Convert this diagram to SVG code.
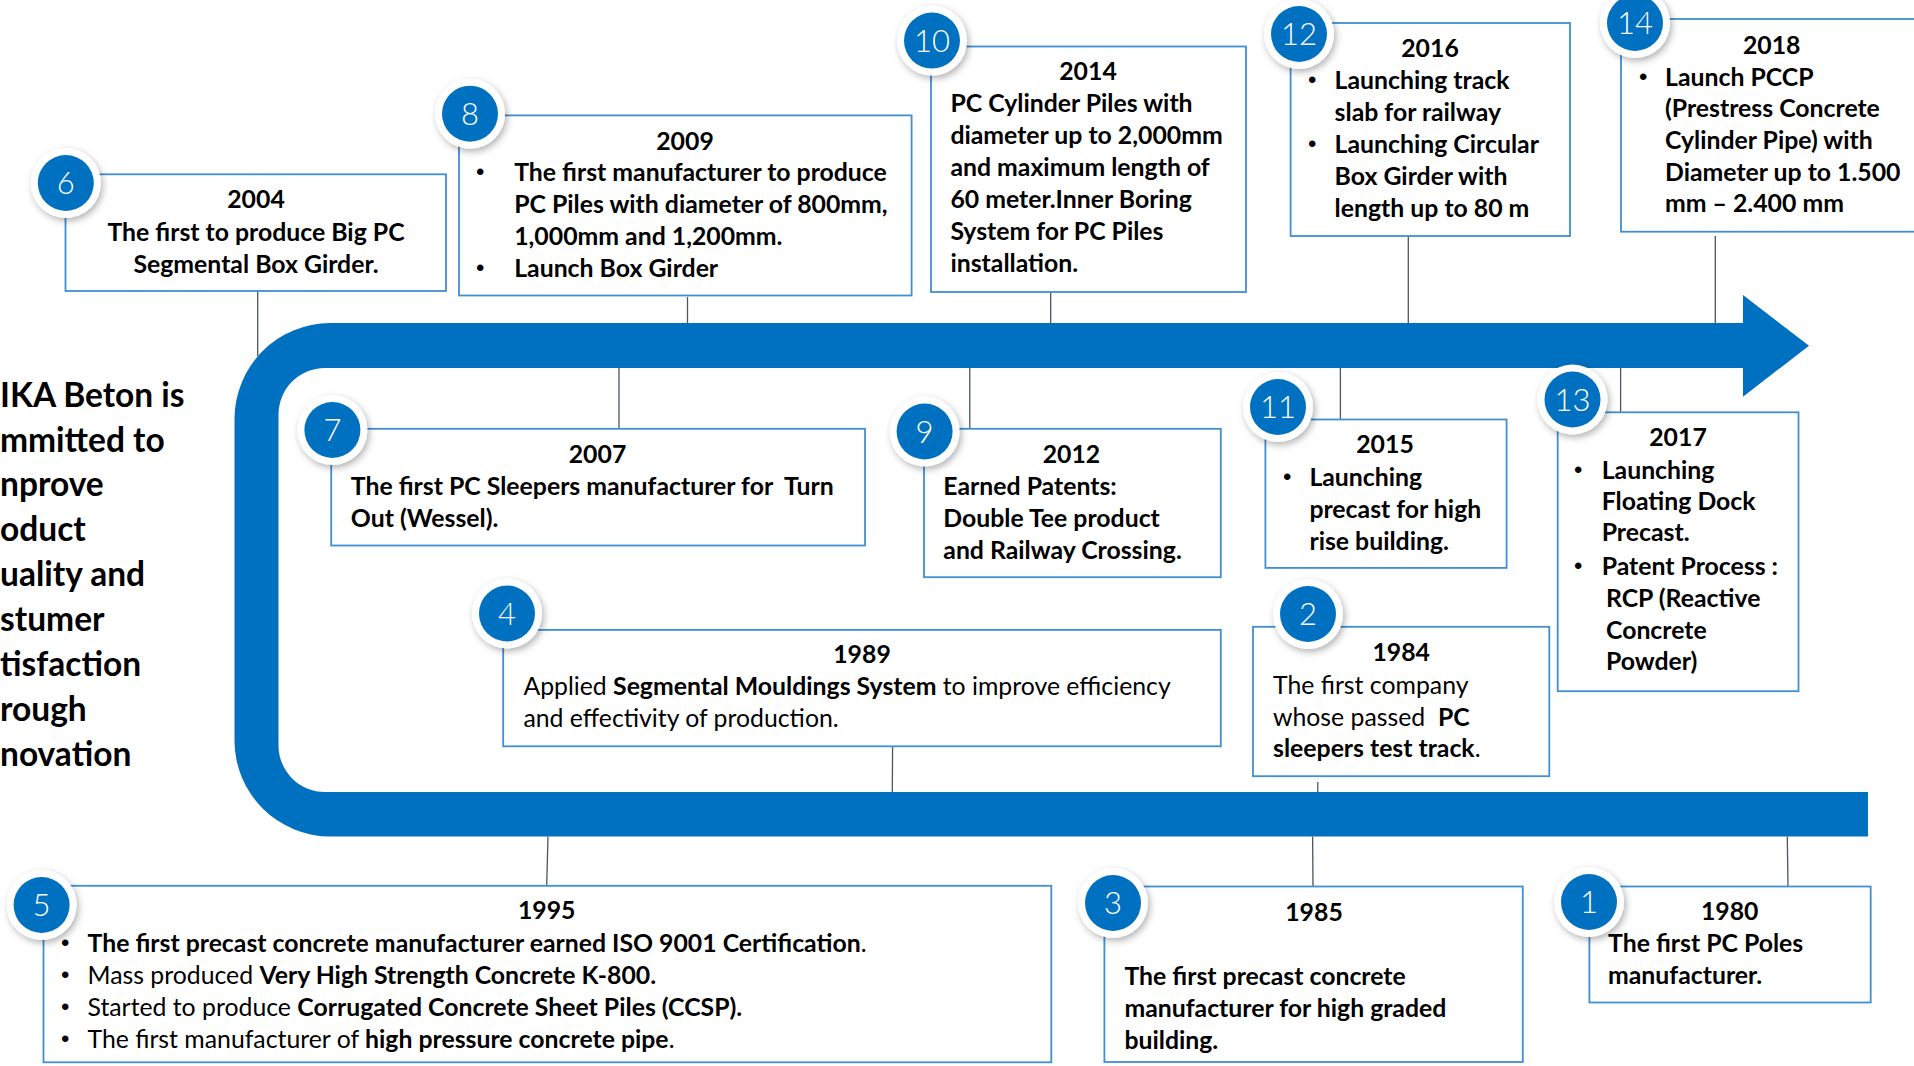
<svg xmlns="http://www.w3.org/2000/svg" width="1914" height="1066" viewBox="0 0 1914 1066">
<defs>
<style>
.box{fill:#fff;stroke:#3F8FD2;stroke-width:1.8}
.t{font-family:Lato,"Liberation Sans",sans-serif;font-size:24.8px;fill:#000}
.b{font-weight:700}
.r{font-weight:400}
.m{text-anchor:middle}
.bu{font-family:"Liberation Sans",sans-serif;font-size:24px;fill:#000}
.c{stroke:#4A5568;stroke-width:1.3;fill:none}
.ring{fill:#fff;filter:url(#sh)}
.disc{fill:#0070C0}
.num{font-family:Lato,"Liberation Sans",sans-serif;font-size:31px;font-weight:300;fill:#fff;text-anchor:middle}
.side{font-family:Lato,"Liberation Sans",sans-serif;font-size:33.5px;font-weight:700;fill:#000}
</style>
<filter id="sh" x="-40%" y="-40%" width="180%" height="180%">
<feDropShadow dx="2" dy="3" stdDeviation="3.5" flood-color="#000" flood-opacity="0.3"/>
</filter>
</defs>
<rect width="1914" height="1066" fill="#fff"/>

<g id="band">
<path fill="#0070C0" d="M1743 323 L330 323 A96 96 0 0 0 234.5 419 L234.5 740.5 A96 96 0 0 0 330.5 836.5 L1868 836.5 L1868 792 L325 792 A46.5 46.5 0 0 1 278.5 745.5 L278.5 414.5 A46.5 46.5 0 0 1 325 368 L1743 368 L1743 396.7 L1809 345.7 L1743 295 Z"/>
</g>

<g id="side-text" class="side">
<text x="0" y="407">IKA Beton is</text>
<text x="0" y="451.5">mmitted to</text>
<text x="0" y="496">nprove</text>
<text x="0" y="540.5">oduct</text>
<text x="0" y="586">uality and</text>
<text x="0" y="631">stumer</text>
<text x="0" y="676">tisfaction</text>
<text x="0" y="721">rough</text>
<text x="0" y="766">novation</text>
</g>

<g id="connectors">
<line class="c" x1="257.7" y1="291" x2="257.7" y2="356"/>
<line class="c" x1="687.5" y1="297" x2="687.5" y2="323.5"/>
<line class="c" x1="1050.7" y1="292" x2="1050.7" y2="323.5"/>
<line class="c" x1="1408.3" y1="236" x2="1408.3" y2="323.5"/>
<line class="c" x1="1715.3" y1="236" x2="1715.3" y2="325"/>
<line class="c" x1="619" y1="368" x2="619" y2="428"/>
<line class="c" x1="969.8" y1="368" x2="969.8" y2="428"/>
<line class="c" x1="1340.4" y1="368" x2="1340.4" y2="419.5"/>
<line class="c" x1="1620.6" y1="368" x2="1620.6" y2="412.3"/>
<line class="c" x1="892.6" y1="746.3" x2="892.3" y2="792"/>
<line class="c" x1="1317.8" y1="782" x2="1317.8" y2="792"/>
<line class="c" x1="548" y1="836.5" x2="546.7" y2="885.8"/>
<line class="c" x1="1312.6" y1="836.5" x2="1313" y2="886.5"/>
<line class="c" x1="1787.3" y1="836.5" x2="1788" y2="886.5"/>
</g>

<g id="node-6">
<rect class="box" x="65.5" y="174.3" width="380.5" height="116.7"/>
<text class="t b m" x="256" y="208">2004</text>
<text class="t b m" x="256" y="241">The first to produce Big PC</text>
<text class="t b m" x="256" y="273">Segmental Box Girder.</text>
<circle class="ring" cx="65.8" cy="183" r="35"/>
<circle class="disc" cx="65.8" cy="183" r="28"/>
<text class="num" x="65.8" y="194">6</text>
</g>

<g id="node-8">
<rect class="box" x="459" y="115.4" width="452.6" height="180.1"/>
<text class="t b m" x="685" y="150">2009</text>
<text class="bu" x="476" y="180">•</text>
<text class="t b" x="514.2" y="181">The first manufacturer to produce</text>
<text class="t b" x="514.2" y="213">PC Piles with diameter of 800mm,</text>
<text class="t b" x="514.2" y="245">1,000mm and 1,200mm.</text>
<text class="bu" x="476" y="276">•</text>
<text class="t b" x="514.2" y="277">Launch Box Girder</text>
<circle class="ring" cx="470" cy="113.7" r="35"/>
<circle class="disc" cx="470" cy="113.7" r="28"/>
<text class="num" x="470" y="125">8</text>
</g>

<g id="node-10">
<rect class="box" x="931" y="46.5" width="315" height="245.5"/>
<text class="t b m" x="1088" y="80">2014</text>
<text class="t b" x="950.4" y="112">PC Cylinder Piles with</text>
<text class="t b" x="950.4" y="144">diameter up to 2,000mm</text>
<text class="t b" x="950.4" y="176">and maximum length of</text>
<text class="t b" x="950.4" y="208">60 meter.Inner Boring</text>
<text class="t b" x="950.4" y="240">System for PC Piles</text>
<text class="t b" x="950.4" y="272">installation.</text>
<circle class="ring" cx="932" cy="40.6" r="35"/>
<circle class="disc" cx="932" cy="40.6" r="28"/>
<text class="num" x="932" y="52">10</text>
</g>

<g id="node-12">
<rect class="box" x="1290.6" y="23" width="279.4" height="213"/>
<text class="t b m" x="1430" y="57">2016</text>
<text class="bu" x="1308" y="88">•</text>
<text class="t b" x="1334.6" y="89">Launching track</text>
<text class="t b" x="1334.6" y="121">slab for railway</text>
<text class="bu" x="1308" y="152">•</text>
<text class="t b" x="1334.6" y="153">Launching Circular</text>
<text class="t b" x="1334.6" y="185">Box Girder with</text>
<text class="t b" x="1334.6" y="217">length up to 80 m</text>
<circle class="ring" cx="1299" cy="34" r="35"/>
<circle class="disc" cx="1299" cy="34" r="28"/>
<text class="num" x="1299" y="45">12</text>
</g>

<g id="node-14">
<rect class="box" x="1621" y="19" width="320" height="212.7"/>
<text class="t b m" x="1771.7" y="54">2018</text>
<text class="bu" x="1639" y="85">•</text>
<text class="t b" x="1665" y="86">Launch PCCP</text>
<text class="t b" x="1665" y="117.3">(Prestress Concrete</text>
<text class="t b" x="1665" y="149">Cylinder Pipe) with</text>
<text class="t b" x="1665" y="180.7">Diameter up to 1.500</text>
<text class="t b" x="1665" y="212.3">mm – 2.400 mm</text>
<circle class="ring" cx="1635" cy="23" r="35"/>
<circle class="disc" cx="1635" cy="23" r="28"/>
<text class="num" x="1635" y="34">14</text>
</g>

<g id="node-7">
<rect class="box" x="331.2" y="428.8" width="533.8" height="116.7"/>
<text class="t b m" x="597.5" y="463">2007</text>
<text class="t b" x="350.8" y="495" xml:space="preserve">The first PC Sleepers manufacturer for  Turn</text>
<text class="t b" x="350.8" y="527">Out (Wessel).</text>
<circle class="ring" cx="332.4" cy="430" r="35"/>
<circle class="disc" cx="332.4" cy="430" r="28"/>
<text class="num" x="332.4" y="441">7</text>
</g>

<g id="node-9">
<rect class="box" x="924" y="428.8" width="296.8" height="148.4"/>
<text class="t b m" x="1071.4" y="463">2012</text>
<text class="t b" x="943.3" y="495">Earned Patents:</text>
<text class="t b" x="943.3" y="527">Double Tee product</text>
<text class="t b" x="943.3" y="559">and Railway Crossing.</text>
<circle class="ring" cx="924.6" cy="431.5" r="35"/>
<circle class="disc" cx="924.6" cy="431.5" r="28"/>
<text class="num" x="924.6" y="442.5">9</text>
</g>

<g id="node-11">
<rect class="box" x="1265.4" y="419.5" width="241.2" height="148.4"/>
<text class="t b m" x="1385" y="453">2015</text>
<text class="bu" x="1283" y="485">•</text>
<text class="t b" x="1309.4" y="486">Launching</text>
<text class="t b" x="1309.4" y="518">precast for high</text>
<text class="t b" x="1309.4" y="550">rise building.</text>
<circle class="ring" cx="1278" cy="407" r="35"/>
<circle class="disc" cx="1278" cy="407" r="28"/>
<text class="num" x="1278" y="418">11</text>
</g>

<g id="node-13">
<rect class="box" x="1557.7" y="412.3" width="240.8" height="278.9"/>
<text class="t b m" x="1678" y="445.5">2017</text>
<text class="bu" x="1574" y="478">•</text>
<text class="t b" x="1601.7" y="478.7">Launching</text>
<text class="t b" x="1601.7" y="510">Floating Dock</text>
<text class="t b" x="1601.7" y="541">Precast.</text>
<text class="bu" x="1574" y="574">•</text>
<text class="t b" x="1601.7" y="574.8">Patent Process :</text>
<text class="t b" x="1606" y="606.5">RCP (Reactive</text>
<text class="t b" x="1606" y="638.5">Concrete</text>
<text class="t b" x="1606" y="670">Powder)</text>
<circle class="ring" cx="1572.5" cy="399.5" r="35"/>
<circle class="disc" cx="1572.5" cy="399.5" r="28"/>
<text class="num" x="1572.5" y="410.5">13</text>
</g>

<g id="node-4">
<rect class="box" x="503.2" y="629.9" width="717.6" height="116.4"/>
<text class="t b m" x="862" y="663">1989</text>
<text class="t r" x="523.4" y="695.3">Applied <tspan class="b">Segmental Mouldings System</tspan> to improve efficiency</text>
<text class="t r" x="523.4" y="727">and effectivity of production.</text>
<circle class="ring" cx="507" cy="613.5" r="35"/>
<circle class="disc" cx="507" cy="613.5" r="28"/>
<text class="num" x="507" y="624.5">4</text>
</g>

<g id="node-2">
<rect class="box" x="1253" y="626.8" width="296.3" height="149.4"/>
<text class="t b m" x="1401.2" y="661">1984</text>
<text class="t r" x="1273" y="693.6">The first company</text>
<text class="t r" x="1273" y="725.6" xml:space="preserve">whose passed  <tspan class="b">PC</tspan></text>
<text class="t b" x="1273" y="757.3">sleepers test track<tspan class="r">.</tspan></text>
<circle class="ring" cx="1308" cy="614" r="35"/>
<circle class="disc" cx="1308" cy="614" r="28"/>
<text class="num" x="1308" y="625">2</text>
</g>

<g id="node-5">
<rect class="box" x="43.5" y="885.8" width="1007.8" height="176.5"/>
<text class="t b m" x="546.7" y="919">1995</text>
<text class="bu" x="61" y="951">•</text>
<text class="t b" x="87.5" y="952">The first precast concrete manufacturer earned ISO 9001 Certification<tspan class="r">.</tspan></text>
<text class="bu" x="61" y="983">•</text>
<text class="t r" x="87.5" y="984">Mass produced <tspan class="b">Very High Strength Concrete K-800.</tspan></text>
<text class="bu" x="61" y="1015">•</text>
<text class="t r" x="87.5" y="1016">Started to produce <tspan class="b">Corrugated Concrete Sheet Piles (CCSP).</tspan></text>
<text class="bu" x="61" y="1047">•</text>
<text class="t r" x="87.5" y="1048">The first manufacturer of <tspan class="b">high pressure concrete pipe</tspan>.</text>
<circle class="ring" cx="41.6" cy="905" r="35"/>
<circle class="disc" cx="41.6" cy="905" r="28"/>
<text class="num" x="41.6" y="916">5</text>
</g>

<g id="node-3">
<rect class="box" x="1104.4" y="886.5" width="418.4" height="175.5"/>
<text class="t b m" x="1314" y="921">1985</text>
<text class="t b" x="1124.4" y="985.3">The first precast concrete</text>
<text class="t b" x="1124.4" y="1017.3">manufacturer for high graded</text>
<text class="t b" x="1124.4" y="1048.5">building.</text>
<circle class="ring" cx="1113" cy="903" r="35"/>
<circle class="disc" cx="1113" cy="903" r="28"/>
<text class="num" x="1113" y="914">3</text>
</g>

<g id="node-1">
<rect class="box" x="1589.4" y="886.5" width="281.3" height="116"/>
<text class="t b m" x="1729.7" y="920.2">1980</text>
<text class="t b" x="1608" y="952">The first PC Poles</text>
<text class="t b" x="1608" y="984">manufacturer.</text>
<circle class="ring" cx="1589" cy="902" r="35"/>
<circle class="disc" cx="1589" cy="902" r="28"/>
<text class="num" x="1589" y="913">1</text>
</g>
</svg>
